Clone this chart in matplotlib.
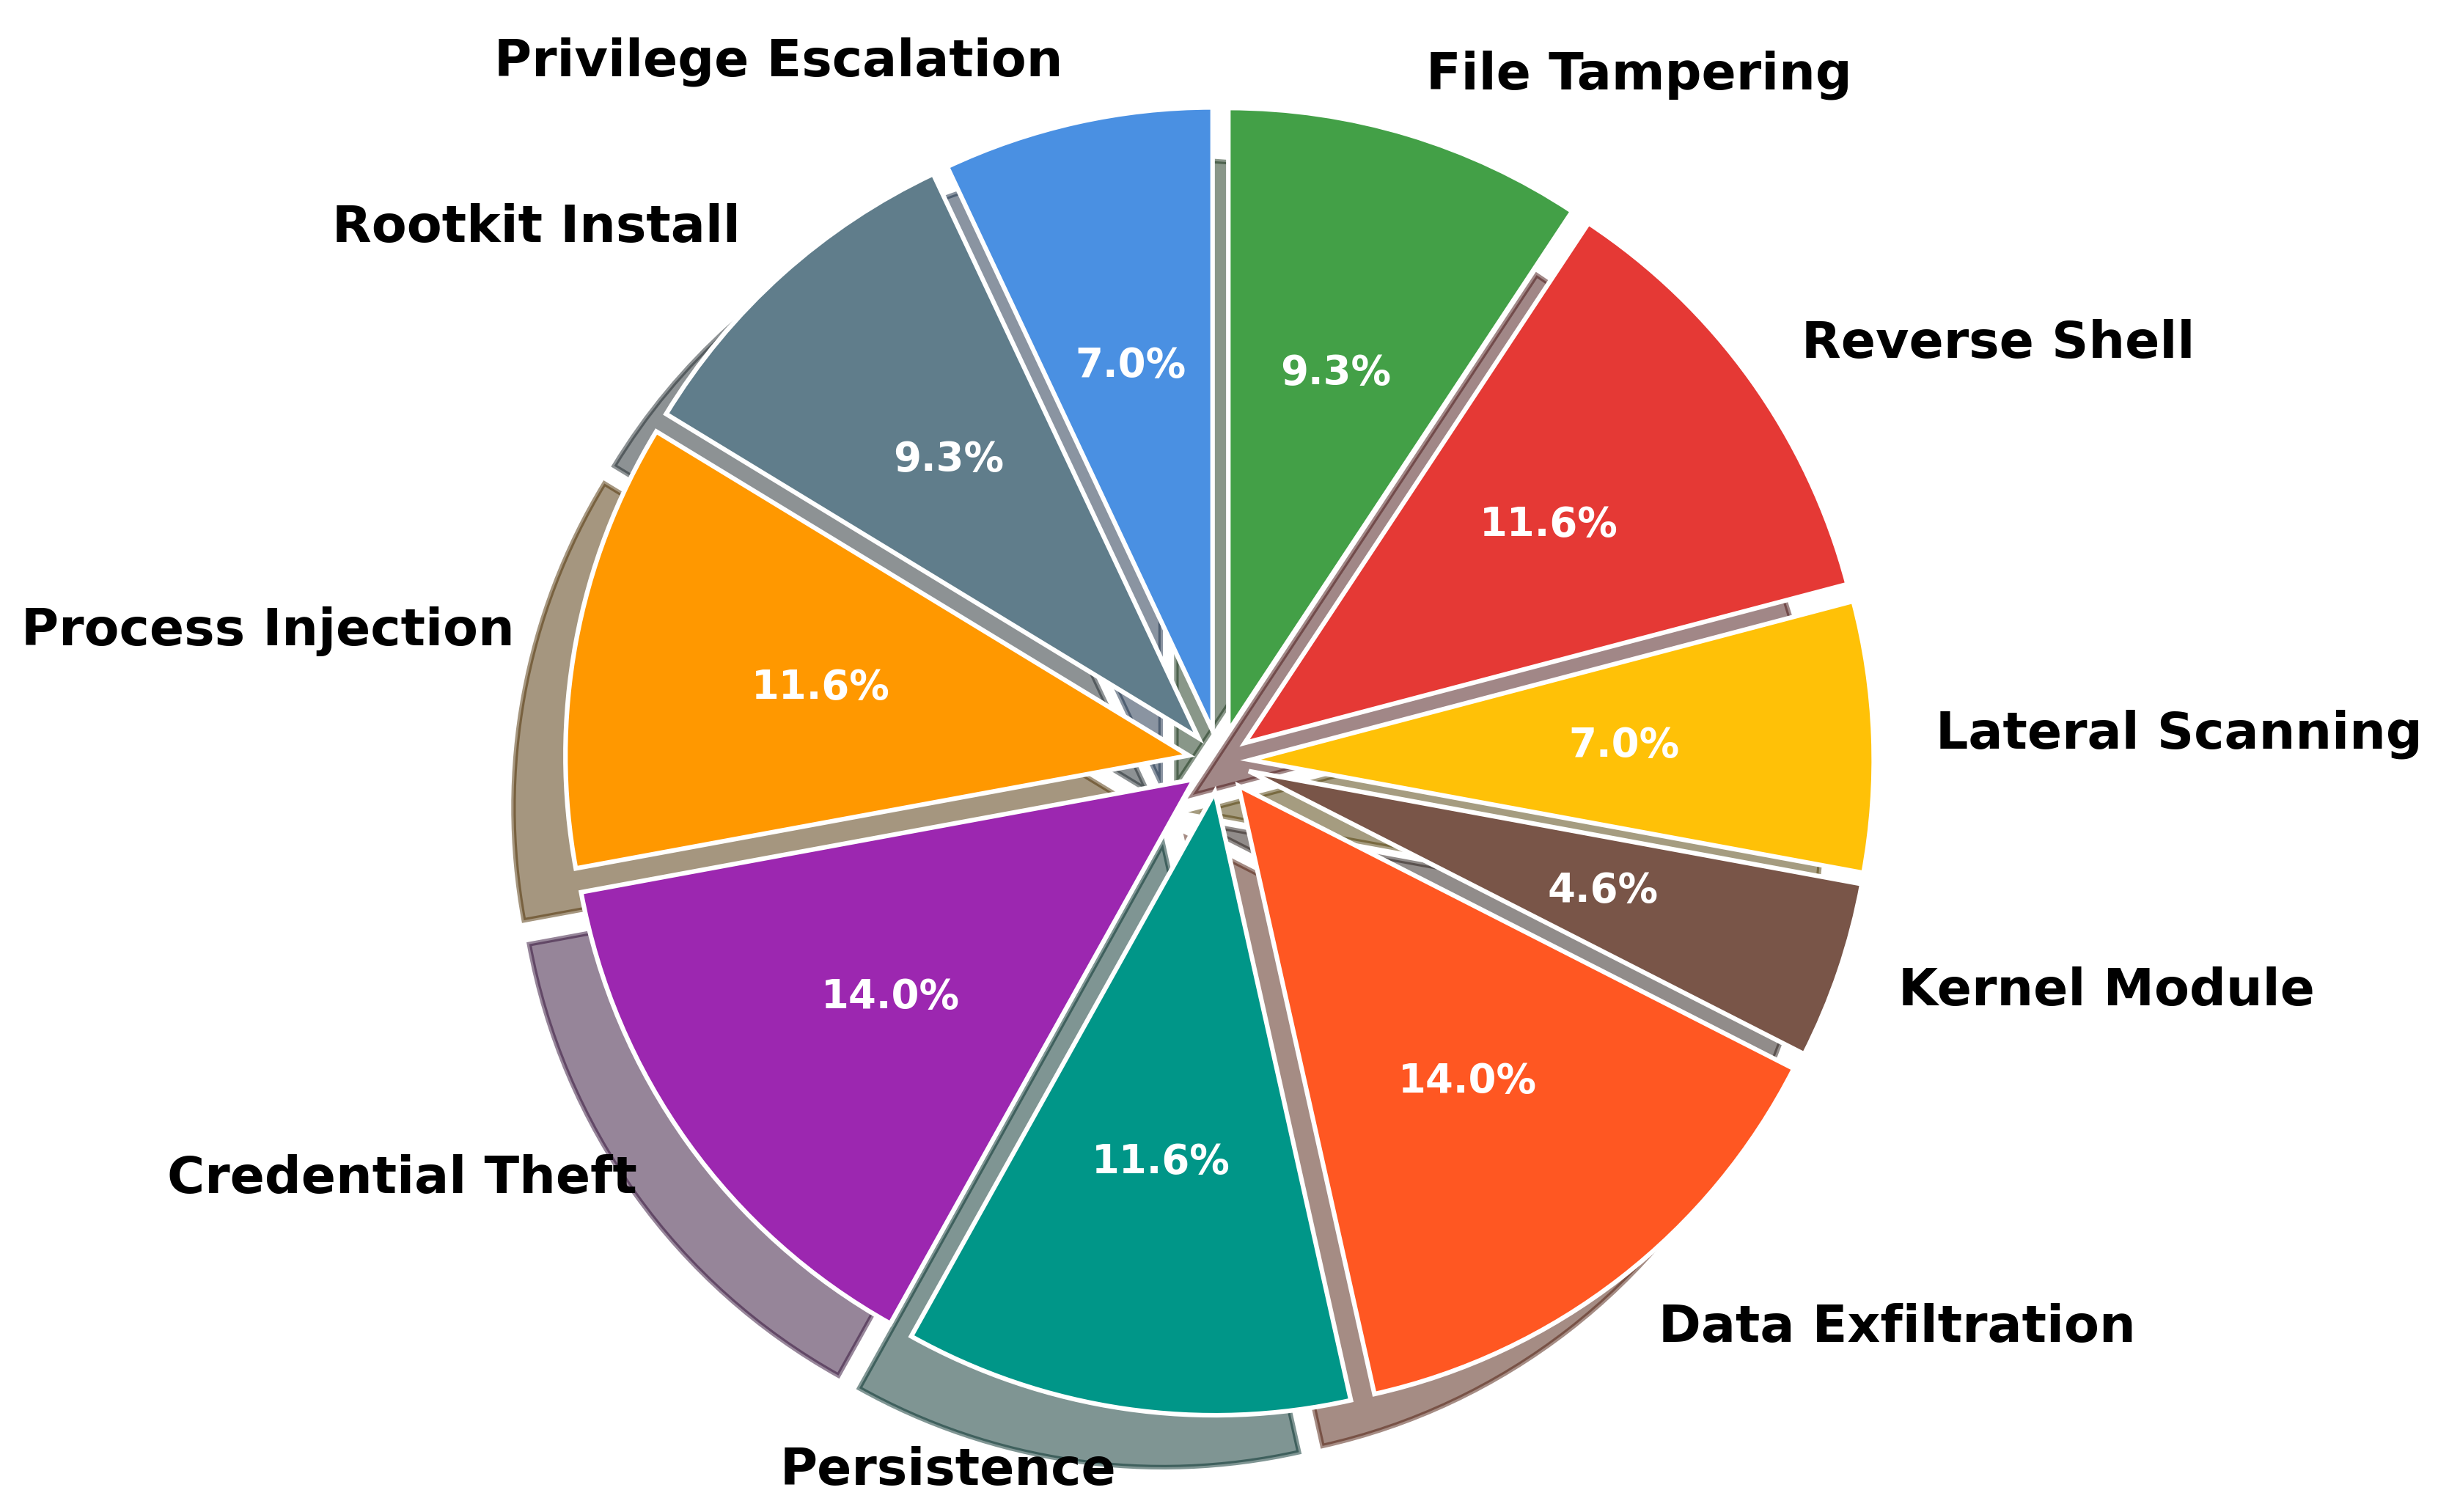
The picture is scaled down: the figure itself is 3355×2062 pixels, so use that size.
import matplotlib.pyplot as plt

# attack categories, clockwise from 12 o'clock
labels = ['File Tampering', 'Reverse Shell', 'Lateral Scanning', 'Kernel Module',
          'Data Exfiltration', 'Persistence', 'Credential Theft', 'Process Injection',
          'Rootkit Install', 'Privilege Escalation']
shares = [9.3, 11.6, 7.0, 4.6, 14.0, 11.6, 14.0, 11.6, 9.3, 7.0]
colors = ['#43A047', '#E53935', '#FFC107', '#795548', '#FF5722',
          '#009688', '#9C27B0', '#FF9800', '#607D8B', '#4A90E2']
explode = [0.05] * len(shares)

fig = plt.figure(figsize=(3355 / 300, 2062 / 300), dpi=300)
ax = fig.add_axes([0, 0, 1, 1])

wedges, texts, autotexts = ax.pie(
    shares, labels=labels, colors=colors, explode=explode,
    autopct='%1.1f%%', startangle=90, counterclock=False, shadow=True,
    labeldistance=1.1, pctdistance=0.6,
    wedgeprops=dict(edgecolor='white', linewidth=1.5),
    textprops=dict(fontsize=16.75, fontweight='bold'))

for t in autotexts:
    t.set_color('white')
    t.set_fontsize(13.1)
    t.set_fontweight('bold')

# pie placement in the figure
r = 850.0
cx, cy = 1663.0, 1038.0
ax.set_xlim(-cx / r, (3355 - cx) / r)
ax.set_ylim(-(2062 - cy) / r, cy / r)
ax.set_aspect('equal')
ax.axis('off')

fig.savefig('out.png', dpi=300)
